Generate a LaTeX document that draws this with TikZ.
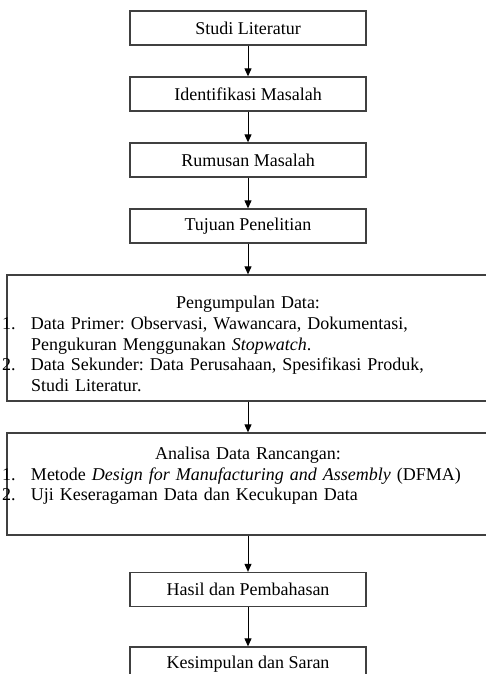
\documentclass[tikz,border=0pt]{standalone}
\usepackage{fontspec}
\setmainfont{Liberation Serif}
\usetikzlibrary{arrows.meta}
\setlength{\parindent}{0pt}
\frenchspacing

\begin{document}
\begin{tikzpicture}[x=1pt,y=-1pt,font=\fontsize{18pt}{20.7pt}\selectfont]
    \tikzstyle{box}=[rectangle,draw=black!75,line width=1.3pt,minimum width=236pt,minimum height=34pt,inner sep=0pt]
    \tikzstyle{widebox}=[rectangle,draw=black!75,line width=1.3pt,text width=492pt,inner xsep=-5pt,inner ysep=0pt,align=left]
    \tikzstyle{flow}=[-{Triangle[length=8pt,width=7pt]},line width=1pt,black]

    \useasboundingbox (0,0) rectangle (486,674);

    \node[box] (lit) at (248,28) {Studi Literatur};
    \node[box] (ident) at (248,94) {Identifikasi Masalah};
    \node[box] (rumus) at (248,160) {Rumusan Masalah};
    \node[box] (tujuan) at (248,226) {Tujuan Penelitian};

    \node[widebox,minimum height=126pt] (data) at (248,338) {%
        {\centering\rule{0pt}{24.4pt}Pengumpulan Data:\par}
        \hangindent=29pt\makebox[29pt][l]{1.}Data Primer: Observasi, Wawancara, Dokumentasi,\newline
        Pengukuran Menggunakan \textit{Stopwatch}.\par
        \hangindent=29pt\makebox[29pt][l]{2.}Data Sekunder: Data Perusahaan, Spesifikasi Produk,\newline
        Studi Literatur.\par};

    \node[widebox,minimum height=102pt] (analisa) at (248,484) {%
        {\centering Analisa Data Rancangan:\par}
        \makebox[29pt][l]{1.}Metode \textit{Design for Manufacturing and Assembly} (DFMA)\par
        \makebox[29pt][l]{2.}Uji Keseragaman Data dan Kecukupan Data\rule[-20pt]{0pt}{20pt}\par};

    \node[box] (hasil) at (248,589.5) {Hasil dan Pembahasan};
    \node[box] (simpul) at (248,664) {Kesimpulan dan Saran};

    \foreach \source / \dest in {lit/ident,ident/rumus,rumus/tujuan,tujuan/data,data/analisa,analisa/hasil,hasil/simpul}
        \draw[flow] (\source) -- (\dest);
\end{tikzpicture}
\end{document}
